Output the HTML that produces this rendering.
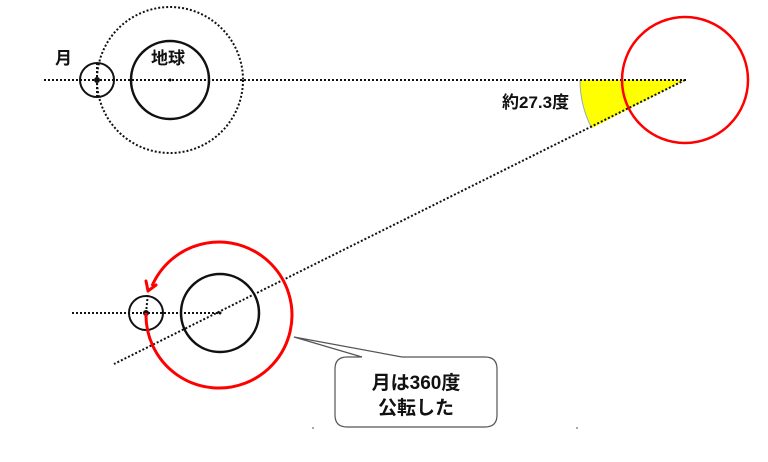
<!DOCTYPE html>
<html><head><meta charset="utf-8"><style>
html,body{margin:0;padding:0;background:#fff;}
svg{display:block;}
text{font-family:"Liberation Sans","Noto Sans CJK JP",sans-serif;font-weight:bold;fill:#111;}
</style></head><body>
<svg width="768" height="462" viewBox="0 0 768 462" xmlns="http://www.w3.org/2000/svg">
<path d="M685,80 L580,80 A105,105 0 0 0 591.7,128.2 Z" fill="#ffff00"/>
<path d="M580,80 A105,105 0 0 0 591.7,128.2" fill="none" stroke="#9ab" stroke-width="1"/>
<circle cx="170" cy="80" r="73" fill="none" stroke="#111" stroke-width="2" stroke-dasharray="2,2"/>
<line x1="44" y1="80" x2="686" y2="80" stroke="#111" stroke-width="2" stroke-dasharray="2,2"/>
<line x1="685" y1="80" x2="114" y2="364" stroke="#111" stroke-width="2" stroke-dasharray="2,2"/>
<circle cx="97" cy="80" r="17" fill="none" stroke="#111" stroke-width="2"/>
<line x1="97" y1="63" x2="97" y2="97" stroke="#111" stroke-width="2" stroke-dasharray="2,2"/>
<circle cx="97" cy="80" r="3" fill="#111"/>
<circle cx="170" cy="80" r="39" fill="none" stroke="#111" stroke-width="2.5"/>
<circle cx="170" cy="80" r="1.5" fill="#111"/>
<circle cx="685" cy="80" r="63" fill="none" stroke="#ff0000" stroke-width="2.5"/>
<text x="55" y="64" font-size="17">月</text>
<text x="151" y="64" font-size="17">地球</text>
<text x="502" y="108" font-size="17">約27.3度</text>
<line x1="72" y1="313" x2="220" y2="313" stroke="#111" stroke-width="2" stroke-dasharray="2,2"/>
<line x1="146" y1="313" x2="148" y2="293" stroke="#111" stroke-width="2" stroke-dasharray="2,2"/>
<circle cx="146" cy="313" r="17" fill="none" stroke="#111" stroke-width="2"/>
<circle cx="146" cy="313" r="3" fill="#111"/>
<circle cx="220" cy="313" r="39" fill="none" stroke="#111" stroke-width="2.5"/>
<circle cx="220" cy="313" r="1.5" fill="#111"/>
<path d="M146,313 A73,73 0 1 0 152,286" fill="none" stroke="#ff0000" stroke-width="3"/>
<path d="M148,291 L146,281 M148,291 L156,285" fill="none" stroke="#ff0000" stroke-width="3" stroke-linecap="round"/>
<path d="M347,357 L362,357 L294,337 L402,357 L485,357 Q497,357 497,369 L497,415 Q497,427 485,427 L347,427 Q335,427 335,415 L335,369 Q335,357 347,357 Z" fill="#fff" stroke="#555" stroke-width="1.2"/>
<text x="416" y="389" font-size="19" text-anchor="middle">月は360度</text>
<text x="416" y="414" font-size="19" text-anchor="middle">公転した</text>
<rect x="312" y="427" width="2" height="2" fill="#aaa"/>
<rect x="576" y="427" width="2" height="2" fill="#aaa"/>
</svg>
</body></html>
